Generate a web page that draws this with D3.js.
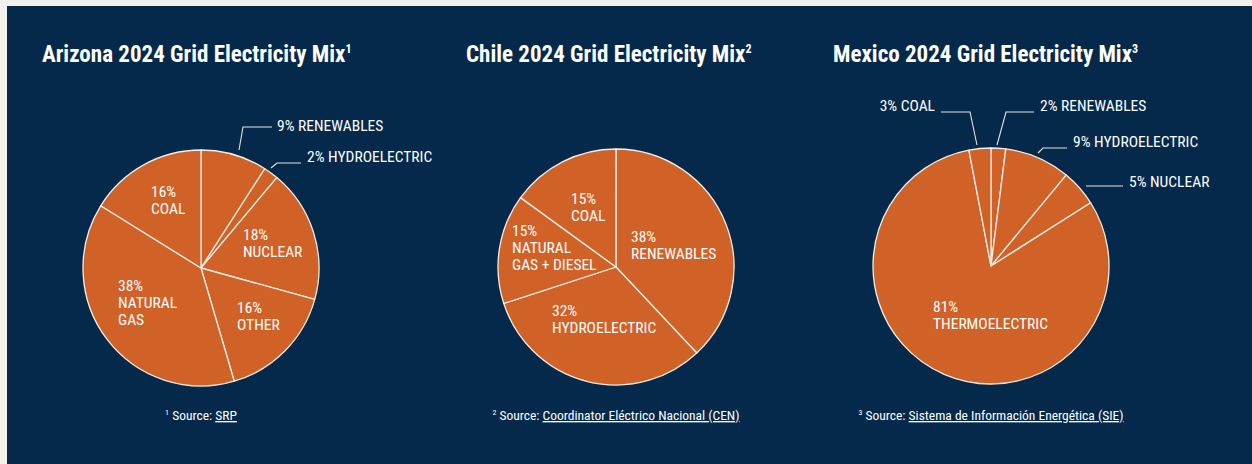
<!DOCTYPE html>
<html>
<head>
<meta charset="utf-8">
<script src="https://cdn.jsdelivr.net/npm/d3@7"></script>
<style>
	body { margin: 0; background: #f3f1ec; }
	svg { display: block; }
</style>
</head>
<body>
<div id="chart"></div>
<script>
// data
var azLabels = ['RENEWABLES','HYDROELECTRIC','NUCLEAR','OTHER','NATURAL GAS','COAL']
var azValues = [9,2,18,16,38,16]
var clLabels = ['RENEWABLES','HYDROELECTRIC','NATURAL GAS + DIESEL','COAL']
var clValues = [38,32,15,15]
var mxLabels = ['RENEWABLES','HYDROELECTRIC','NUCLEAR','THERMOELECTRIC','COAL']
var mxValues = [2,9,5,81,3]
var titles = ['Arizona 2024 Grid Electricity Mix','Chile 2024 Grid Electricity Mix','Mexico 2024 Grid Electricity Mix']
var sourceNames = ['SRP','Coordinator Eléctrico Nacional (CEN)','Sistema de Información Energética (SIE)']

var chart = {}
chart.width = 1252
chart.height = 464
chart.navy = '#05294a'
chart.orange = '#d06228'
chart.font = "'Roboto Condensed','Liberation Sans Narrow','DejaVu Sans Condensed',sans-serif"
chart.radius = 118

var svg = d3.select('#chart')
	.append('svg')
	.attr('width',chart.width)
	.attr('height',chart.height)

svg.append('rect')
	.attr('x',7)
	.attr('y',6)
	.attr('width',chart.width-7)
	.attr('height',chart.height-6)
	.attr('fill',chart.navy)

// per-pie layout: centre, title x, label placement (inside = multi-line, outside = leader)
var pies = [
	{ labels: azLabels, values: azValues, cx: 201, cy: 268, tx: 42,
	  place: [
		{ out: true, pts: [[239,150],[243,127],[272,127]], x: 277, y: 131 },
		{ out: true, pts: [[271,168],[277,163],[301,163]], x: 307, y: 162 },
		{ x: 243, y: 240 },
		{ x: 237, y: 313 },
		{ x: 118, y: 291 },
		{ x: 151, y: 197 }
	]},
	{ labels: clLabels, values: clValues, cx: 616, cy: 267, tx: 466,
	  place: [
		{ x: 631, y: 242 },
		{ x: 552, y: 316 },
		{ x: 512, y: 236, lines: ['NATURAL','GAS + DIESEL'] },
		{ x: 571, y: 204 }
	]},
	{ labels: mxLabels, values: mxValues, cx: 991, cy: 266, tx: 833,
	  place: [
		{ out: true, pts: [[997,145],[1006,112],[1034,112]], x: 1040, y: 111 },
		{ out: true, pts: [[1038,153],[1043,148],[1067,148]], x: 1073, y: 147 },
		{ out: true, pts: [[1086,186],[1123,186]], x: 1129, y: 187 },
		{ x: 933, y: 312 },
		{ out: true, pts: [[977,145],[970,112],[941,112]], x: 935, y: 111, anchor: 'end' }
	]}
]

var pie = d3.pie()
	.sort(null)
	.value(function(d){ return d })

var arc = d3.arc()
	.innerRadius(0)
	.outerRadius(chart.radius)

var line = d3.line()

pies.forEach(function(p,k){
	var g = svg.append('g')
		.attr('transform','translate(' + p.cx + ',' + p.cy + ')')

	g.selectAll('path.slice')
		.data(pie(p.values))
		.enter()
		.append('path')
		.attr('class','slice')
		.attr('d',arc)
		.attr('fill',chart.orange)
		.attr('stroke','#f3ede6')
		.attr('stroke-width',1.3)
		.attr('stroke-linejoin','round')

	var title = svg.append('text')
		.attr('x',p.tx)
		.attr('y',62)
		.attr('fill','white')
		.style('font-family',chart.font)
		.style('font-weight',700)
		.style('font-size','23px')
		.text(titles[k])
	title.append('tspan')
		.attr('dy',-9)
		.style('font-size','12px')
		.text(k+1)

	p.values.forEach(function(v,i){
		var pl = p.place[i]
		var name = p.labels[i]
		if (pl.out) {
			svg.append('path')
				.attr('d',line(pl.pts))
				.attr('fill','none')
				.attr('stroke','#e8e4df')
				.attr('stroke-width',1.1)
			svg.append('text')
				.attr('x',pl.x)
				.attr('y',pl.y)
				.attr('fill','white')
				.attr('text-anchor',pl.anchor || 'start')
				.style('font-family',chart.font)
				.style('font-size','15.5px')
				.text(v + '% ' + name)
		} else {
			var rows = [v + '%'].concat(pl.lines || (name == 'NATURAL GAS' ? ['NATURAL','GAS'] : [name]))
			var t = svg.append('text')
				.attr('fill','white')
				.style('font-family',chart.font)
				.style('font-size','15.5px')
			rows.forEach(function(r,j){
				t.append('tspan')
					.attr('x',pl.x)
					.attr('y',pl.y + j*17)
					.text(r)
			})
		}
	})

	var src = svg.append('text')
		.attr('x',p.cx)
		.attr('y',420)
		.attr('fill','white')
		.attr('text-anchor','middle')
		.style('font-family',chart.font)
		.style('font-size','13.5px')
	src.append('tspan')
		.attr('dy',-5)
		.style('font-size','8px')
		.text(k+1)
	src.append('tspan')
		.attr('dy',5)
		.text(' Source: ')
	src.append('tspan')
		.style('text-decoration','underline')
		.text(sourceNames[k])
})
</script>
</body>
</html>
